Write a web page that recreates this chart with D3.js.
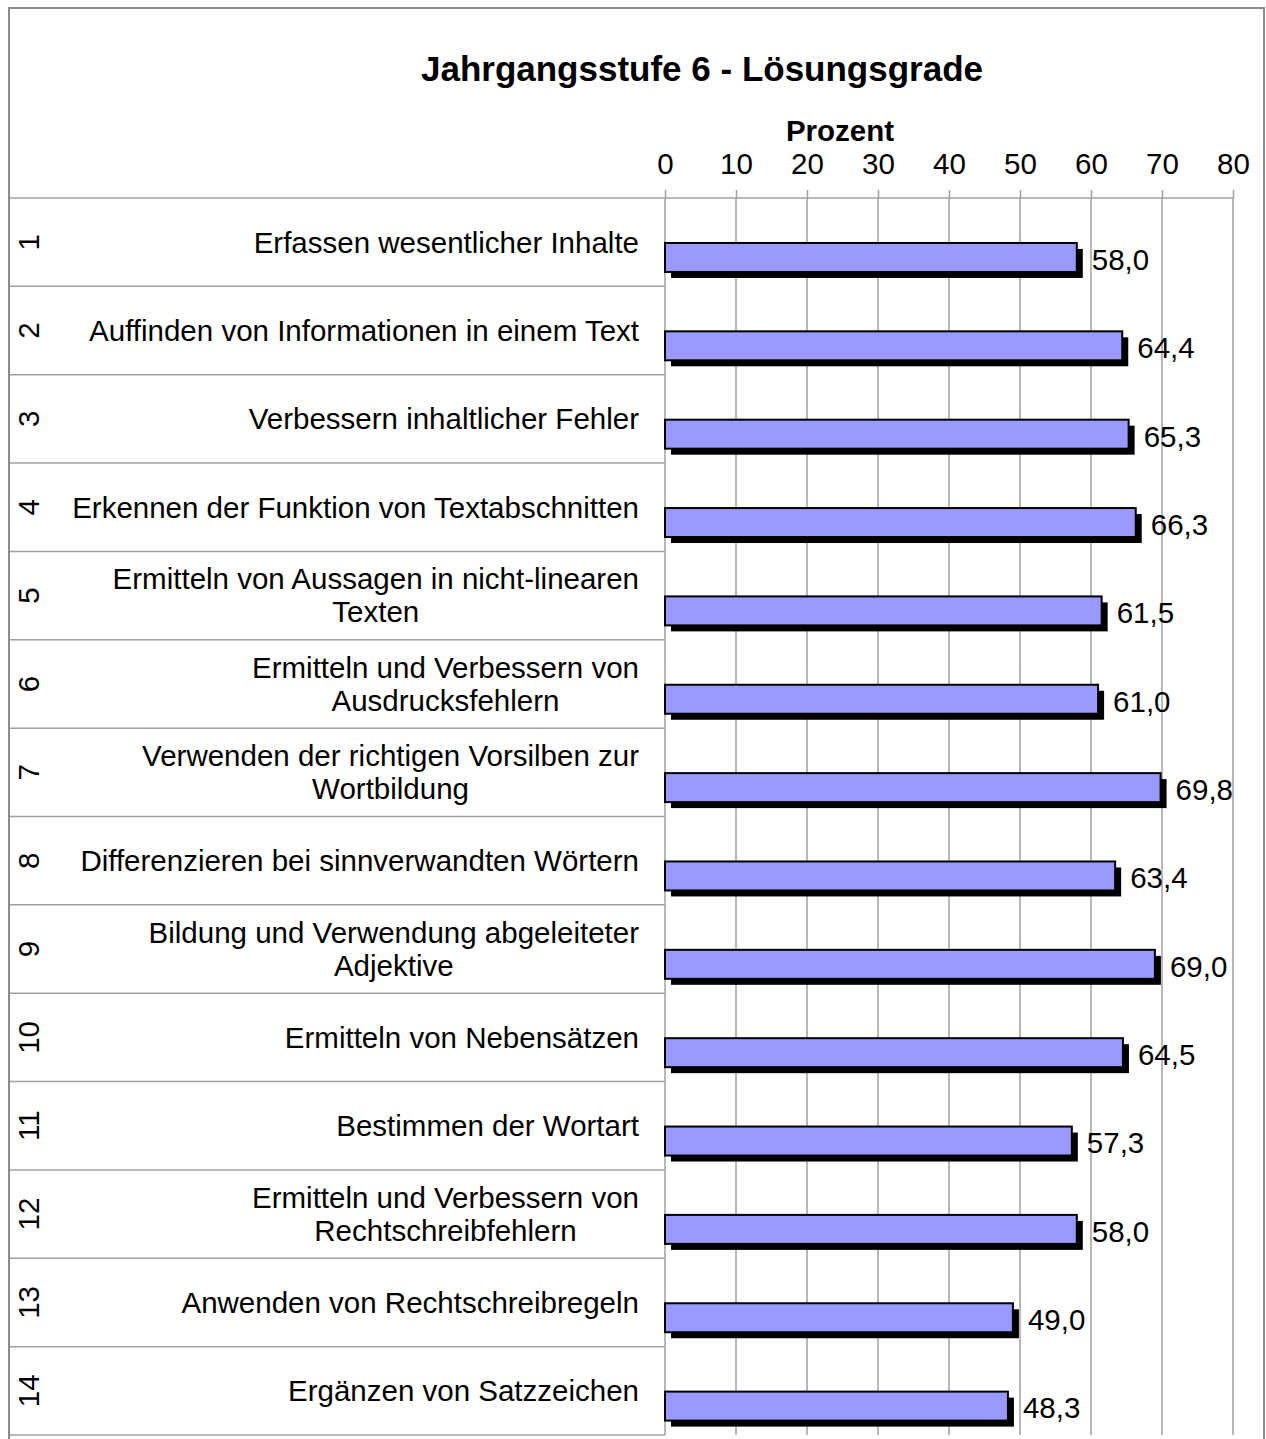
<!DOCTYPE html>
<html>
<head>
<meta charset="utf-8">
<script src="https://cdn.jsdelivr.net/npm/d3@7"></script>
<style>
  body { margin: 0; background: #fff; }
  svg { display: block; font-family: 'Liberation Sans', Arial, sans-serif; }
</style>
</head>
<body>
<script>
// data
const itemNumbers = ['1', '2', '3', '4', '5', '6', '7', '8', '9', '10', '11', '12', '13', '14'];
const categories = [
    'Erfassen wesentlicher Inhalte',
    'Auffinden von Informationen in einem Text',
    'Verbessern inhaltlicher Fehler',
    'Erkennen der Funktion von Textabschnitten',
    'Ermitteln von Aussagen in nicht-linearen\nTexten',
    'Ermitteln und Verbessern von\nAusdrucksfehlern',
    'Verwenden der richtigen Vorsilben zur\nWortbildung',
    'Differenzieren bei sinnverwandten Wörtern',
    'Bildung und Verwendung abgeleiteter\nAdjektive',
    'Ermitteln von Nebensätzen',
    'Bestimmen der Wortart',
    'Ermitteln und Verbessern von\nRechtschreibfehlern',
    'Anwenden von Rechtschreibregeln',
    'Ergänzen von Satzzeichen',
];
const values = [58.0, 64.4, 65.3, 66.3, 61.5, 61.0, 69.8, 63.4, 69.0, 64.5, 57.3, 58.0, 49.0, 48.3];
const tickValues = [0, 10, 20, 30, 40, 50, 60, 70, 80];
const title = 'Jahrgangsstufe 6 - Lösungsgrade';
const axisTitle = 'Prozent';

const width = 1266;
const height = 1439;
const plotLeft = 665;
const plotRight = 1233;
const plotTop = 198;
const plotBottom = 1435;
const frameLeft = 9;
const gridColor = '#a0a0a0';
const fontSize = 29.5;

const de = d3.formatLocale({ decimal: ',', thousands: '.', grouping: [3], currency: ['', ' €'] });
const fmt = de.format('.1f');

const svg = d3.select('body').append('svg')
    .attr('width', width)
    .attr('height', height)
    .attr('viewBox', [0, 0, width, height]);

// outer frame
svg.append('rect')
    .attr('x', frameLeft)
    .attr('y', 8)
    .attr('width', 1264 - frameLeft)
    .attr('height', 1445)
    .attr('fill', 'none')
    .attr('stroke', '#8c8c8c')
    .attr('stroke-width', 2);

const xScale = d3.scaleLinear([0, 80], [plotLeft, plotRight]);
const yScale = d3.scaleBand(itemNumbers, [plotTop, plotBottom]).padding(0);
const bw = yScale.bandwidth();

// title
svg.append('text')
    .attr('x', 702)
    .attr('y', 81)
    .attr('text-anchor', 'middle')
    .attr('font-size', 35)
    .attr('font-weight', 'bold')
    .text(title);

svg.append('text')
    .attr('x', 840)
    .attr('y', 141)
    .attr('text-anchor', 'middle')
    .attr('font-size', 29.5)
    .attr('font-weight', 'bold')
    .text(axisTitle);

// vertical grid
svg.append('g')
    .selectAll('line')
    .data(tickValues)
    .join('line')
    .attr('x1', (d) => xScale(d))
    .attr('x2', (d) => xScale(d))
    .attr('y1', plotTop)
    .attr('y2', plotBottom)
    .attr('stroke', gridColor)
    .attr('stroke-width', 1.5);

// x axis on top
svg.append('g')
    .attr('transform', `translate(0,${plotTop})`)
    .call(d3.axisTop(xScale).tickValues(tickValues).tickSize(8).tickPadding(16).tickFormat(d3.format('d')))
    .call((g) => g.select('.domain').remove())
    .call((g) => g.selectAll('.tick line').attr('stroke', gridColor).attr('stroke-width', 1.5))
    .call((g) =>
        g.selectAll('.tick text')
            .attr('font-size', fontSize)
            .attr('font-family', "'Liberation Sans', Arial, sans-serif")
            .attr('fill', '#000')
    );

// header line
svg.append('line')
    .attr('x1', frameLeft + 1)
    .attr('x2', plotRight)
    .attr('y1', plotTop)
    .attr('y2', plotTop)
    .attr('stroke', gridColor)
    .attr('stroke-width', 1.5);

// row separators in label area
svg.append('g')
    .selectAll('line')
    .data(itemNumbers)
    .join('line')
    .attr('x1', frameLeft + 1)
    .attr('x2', plotLeft)
    .attr('y1', (d) => yScale(d) + bw)
    .attr('y2', (d) => yScale(d) + bw)
    .attr('stroke', gridColor)
    .attr('stroke-width', 1.5);

// item numbers, rotated
svg.append('g')
    .selectAll('text')
    .data(itemNumbers)
    .join('text')
    .attr('transform', (d) => `translate(39,${yScale(d) + bw / 2}) rotate(-90)`)
    .attr('text-anchor', 'middle')
    .attr('font-size', fontSize)
    .text((d) => d);

// category labels: block right aligned, lines centred in block
const labelRight = 639;
const lineGap = 33;
categories.forEach((c, i) => {
    const lines = c.split('\n');
    const cy = yScale(itemNumbers[i]) + bw / 2;
    const g = svg.append('g');
    const texts = lines.map((l, j) =>
        g.append('text')
            .attr('font-size', fontSize)
            .attr('text-anchor', 'middle')
            .attr('y', cy + (j - (lines.length - 1) / 2) * lineGap)
            .attr('dy', '0.35em')
            .text(l)
    );
    const maxW = d3.max(texts, (t) => t.node().getComputedTextLength());
    texts.forEach((t) => t.attr('x', labelRight - maxW / 2));
});

// bars
const barTop = (d) => yScale(d) + bw * 0.509;
const barH = bw * 0.328;
const shadow = 6;

svg.append('g')
    .selectAll('rect')
    .data(itemNumbers)
    .join('rect')
    .attr('x', xScale(0) + shadow)
    .attr('y', (d) => barTop(d) + shadow)
    .attr('width', (d, i) => xScale(values[i]) - xScale(0))
    .attr('height', barH)
    .attr('fill', '#000');

svg.append('g')
    .selectAll('rect')
    .data(itemNumbers)
    .join('rect')
    .attr('x', xScale(0))
    .attr('y', (d) => barTop(d))
    .attr('width', (d, i) => xScale(values[i]) - xScale(0))
    .attr('height', barH)
    .attr('fill', '#9999ff')
    .attr('stroke', '#000')
    .attr('stroke-width', 2);

// value labels
svg.append('g')
    .selectAll('text')
    .data(itemNumbers)
    .join('text')
    .attr('x', (d, i) => xScale(values[i]) + 15)
    .attr('y', (d) => barTop(d) + barH / 2 + 2)
    .attr('dy', '0.35em')
    .attr('font-size', fontSize)
    .text((d, i) => fmt(values[i]));
</script>
</body>
</html>
